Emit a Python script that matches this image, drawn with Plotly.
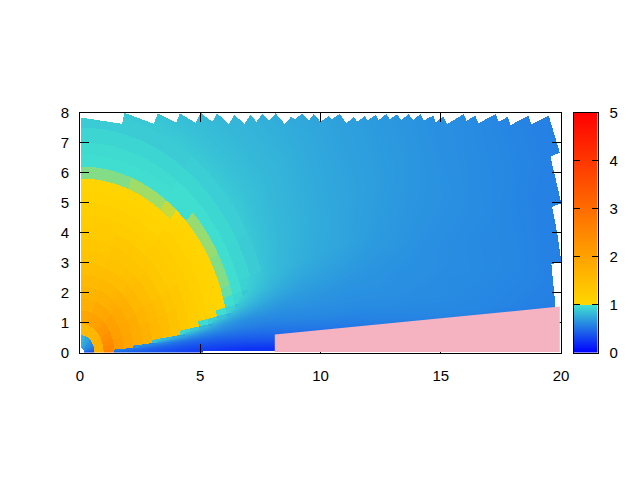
import numpy as np
import plotly.graph_objects as go

# polar grid of the run: ring edges (radius) and wedge edges (degrees)
r_edges = [0.15, 0.58, 0.96, 1.4, 1.8, 2.2, 2.6, 3.0, 3.4, 3.8, 4.2, 4.6, 5.0, 5.4, 5.8, 6.2, 6.6,
           7.0, 7.5, 8.0, 8.5, 9.0, 10, 11, 12, 13, 14, 15, 16, 17, 18, 19, 20, 22]
theta_edges = [0, 2, 4, 6, 8, 10, 12, 14, 17, 20, 30, 45, 50, 55, 70, 90]

# values read per wedge, one number per ring
z_00 = [.33, 1.7, 2.6, .45, .42, .40, .38, .36, .34, .32, .30, .28, .27, .25, .24, .23, .22, .22, .22, .22, .22, .22, .22, .22, .22, .22, .22, .22, .22, .22, .22, .22, .22]
z_02 = [.36, 1.7, 2.6, .55, .52, .50, .47, .44, .42, .40, .38, .37, .36, .35, .35, .35, .35, .36, .37, .38, .40, .42, .44, .46, .48, .50, .52, .52, .52, .52, .52, .52, .52]
z_04 = [.38, 1.7, 2.5, 2.1, 1.95, .62, .60, .58, .55, .52, .50, .48, .47, .46, .46, .46, .46, .47, .48, .50, .51, .53, .54, .55, .57, .58, .59, .59, .59, .58, .57, .56, .55]
z_06 = [.42, 1.7, 2.5, 2.1, 1.95, 1.8, 1.7, .85, .80, .75, .70, .66, .62, .60, .58, .57, .56, .56, .56, .57, .58, .59, .60, .60, .61, .61, .61, .61, .60, .59, .58, .57, .55]
z_08 = [.45, 1.7, 2.5, 2.1, 1.95, 1.8, 1.7, 1.6, 1.5, 1.4, .93, .88, .80, .74, .68, .65, .63, .62, .62, .62, .62, .63, .63, .63, .63, .63, .62, .61, .61, .60, .59, .57, .55]
z_10 = [.48, 1.7, 2.5, 2.1, 1.95, 1.8, 1.7, 1.6, 1.5, 1.4, 1.3, 1.2, .96, .90, .84, .78, .74, .71, .69, .67, .66, .66, .65, .64, .64, .63, .63, .62, .61, .60, .59, .57, .55]
z_12 = [.50, 1.7, 2.4, 2.1, 1.95, 1.8, 1.7, 1.6, 1.5, 1.4, 1.3, 1.2, 1.15, 1.1, .97, .92, .85, .80, .76, .73, .71, .69, .68, .66, .65, .64, .63, .62, .61, .60, .59, .57, .55]
z_14 = [.52, 1.7, 2.4, 2.1, 1.95, 1.8, 1.7, 1.6, 1.5, 1.4, 1.3, 1.2, 1.15, 1.1, 1.05, .97, .94, .88, .83, .79, .76, .73, .71, .69, .67, .66, .64, .63, .62, .61, .59, .57, .56]
z_17 = [.54, 1.7, 2.4, 2.05, 1.9, 1.8, 1.7, 1.6, 1.5, 1.4, 1.3, 1.2, 1.15, 1.1, 1.05, .984, .97, .92, .87, .83, .80, .77, .74, .72, .69, .67, .65, .64, .63, .61, .60, .58, .56]
z_20 = [.58, 1.7, 2.3, 2.05, 1.9, 1.8, 1.65, 1.55, 1.45, 1.35, 1.3, 1.2, 1.15, 1.1, 1.05, .987, .97, .93, .89, .85, .82, .79, .76, .73, .71, .69, .67, .65, .63, .62, .60, .58, .56]
z_30 = [.62, 1.65, 2.2, 2.0, 1.85, 1.75, 1.6, 1.5, 1.4, 1.3, 1.25, 1.2, 1.15, 1.1, 1.05, .989, .97, .94, .90, .87, .84, .81, .78, .75, .72, .70, .68, .66, .64, .62, .60, .58, .56]
z_45 = [.68, 1.6, 2.1, 1.9, 1.8, 1.7, 1.55, 1.45, 1.35, 1.3, 1.25, 1.2, 1.15, 1.1, 1.03, .97, .97, .94, .90, .87, .84, .81, .78, .75, .72, .70, .68, .66, .64, .62, .60, .58, .56]
z_50 = [.70, 1.6, 2.05, 1.9, 1.75, 1.65, 1.5, 1.42, 1.35, 1.3, 1.2, 1.15, 1.1, 1.05, .994, .97, .97, .94, .90, .87, .84, .81, .78, .75, .72, .70, .68, .66, .64, .62, .60, .58, .56]
z_55 = [.72, 1.6, 2.0, 1.85, 1.7, 1.6, 1.5, 1.4, 1.35, 1.3, 1.2, 1.15, 1.1, 1.05, .990, .97, .96, .93, .89, .87, .84, .81, .78, .75, .72, .70, .68, .66, .64, .62, .60, .58, .56]
z_70 = [.78, 1.55, 1.9, 1.75, 1.65, 1.55, 1.45, 1.38, 1.3, 1.25, 1.2, 1.15, 1.1, 1.05, .987, .97, .96, .93, .89, .87, .84, .81, .78, .75, .72, .70, .68, .66, .64, .62, .60, .58, .56]

# outline of the mesh
top_x = [0.04, 1.73, 1.83, 3.05, 3.21, 3.98, 4.13, 4.78, 5.0, 5.48, 5.68, 6.17, 6.40, 6.82, 7.07, 7.32, 7.55, 7.83, 8.11, 8.49,
         8.76, 8.91, 9.22, 9.49, 9.70, 9.98, 10.33, 10.44, 10.78, 11.06, 11.36, 11.50, 11.82, 11.92, 12.27, 12.40, 12.72, 12.86,
         13.17, 13.33, 13.65, 13.82, 14.14, 14.27, 14.55, 14.69, 14.76, 15.08, 15.25, 15.94, 16.05, 16.42, 16.54, 17.26, 17.39,
         17.77, 17.88, 18.62, 18.74, 19.47]
top_y = [7.83, 7.62, 7.99, 7.62, 7.97, 7.66, 7.97, 7.66, 7.99, 7.69, 7.97, 7.62, 7.92, 7.62, 7.92, 7.69, 7.95, 7.73, 7.97, 7.62,
         7.86, 7.77, 7.97, 7.73, 7.95, 7.69, 7.88, 7.77, 7.95, 7.64, 7.86, 7.69, 7.88, 7.73, 7.92, 7.75, 7.95, 7.78,
         7.94, 7.75, 7.95, 7.75, 7.95, 7.73, 7.86, 7.88, 7.67, 7.86, 7.62, 7.95, 7.73, 7.89, 7.64, 7.95, 7.69,
         7.86, 7.58, 7.89, 7.61, 7.89]
right_y = [1.53, 2.94, 3.03, 3.98, 4.86, 4.97, 6.53, 6.66, 7.89]
right_x = [19.75, 19.58, 19.99, 19.82, 19.61, 19.99, 19.54, 19.93, 19.47]
bottom_x = [0, 5.1, 5.11, 8.1]
bottom_y = [0, 0, 0.06, 0.06]

# solid body
body_x = [8.1, 8.1, 19.95, 19.95]
body_y = [0.02, 0.6, 1.53, 0.02]

x_ticks = [0, 5, 10, 15, 20]
y_ticks = [0, 1, 2, 3, 4, 5, 6, 7, 8]
cb_ticks = [0, 1, 2, 3, 4, 5]

wedges = np.array([z_00, z_02, z_04, z_06, z_08, z_10, z_12, z_14, z_17, z_20, z_30, z_45, z_50, z_55, z_70])

# palette: blue -> turquoise just under 1, gold -> red from 1 up
palette = [[0, "#0000ff"], [0.196, "#40e0d0"], [0.2, "#ffd700"], [1, "#ff0000"]]

gx = np.linspace(0, 20, 482)
gy = np.linspace(0, 8, 241)
xx, yy = np.meshgrid(gx, gy)
rr = np.hypot(xx, yy)
tt = np.degrees(np.arctan2(yy, xx))
ir = np.clip(np.searchsorted(r_edges, rr) - 1, 0, len(r_edges) - 2)
it = np.clip(np.searchsorted(theta_edges, tt) - 1, 0, len(theta_edges) - 2)
zz = wedges[it, ir]

# the cold side is shaded smoothly between cell centres, like pm3d interpolate
r_mid = (np.array(r_edges[:-1]) + np.array(r_edges[1:])) / 2
t_mid = (np.array(theta_edges[:-1]) + np.array(theta_edges[1:])) / 2
fr = np.interp(rr, r_mid, np.arange(len(r_mid)))
ft = np.interp(tt, t_mid, np.arange(len(t_mid)))
r0 = np.minimum(fr.astype(int), len(r_mid) - 2)
t0 = np.minimum(ft.astype(int), len(t_mid) - 2)
ar, at = fr - r0, ft - t0
c00, c01, c10, c11 = wedges[t0, r0], wedges[t0, r0 + 1], wedges[t0 + 1, r0], wedges[t0 + 1, r0 + 1]
smooth = (c00 * (1 - ar) + c01 * ar) * (1 - at) + (c10 * (1 - ar) + c11 * ar) * at
cold = np.maximum.reduce([c00, c01, c10, c11]) < 0.96
zz = np.where(cold & ((rr >= 8) | (tt < 20)), smooth, zz)

# blank out everything outside the mesh
outside = (rr < r_edges[0]) | (xx < top_x[0])
outside |= yy > np.interp(xx, top_x, top_y)
outside |= xx > np.interp(yy, right_y, right_x)
outside |= yy < np.interp(xx, bottom_x, bottom_y)
zz[outside] = np.nan

fig = go.Figure()
fig.add_trace(go.Heatmap(x=gx, y=gy, z=zz, zmin=0, zmax=5, colorscale=palette, showscale=False,
                         hoverongaps=False))

cb_y = np.linspace(0, 5, 241)
fig.add_trace(go.Heatmap(x=[0, 1], y=cb_y, z=[[v, v] for v in cb_y], zmin=0, zmax=5, colorscale=palette,
                         showscale=False, xaxis="x2", yaxis="y2"))

body_path = "M " + " L ".join(f"{a},{b}" for a, b in zip(body_x, body_y)) + " Z"
fig.add_shape(type="path", path=body_path, xref="x", yref="y", layer="above",
              fillcolor="#f5b3c1", line=dict(width=0))

axis_style = dict(showgrid=False, zeroline=False, showline=True, linecolor="black", linewidth=1, automargin=False,
                  ticks="inside", tickcolor="black", tickwidth=1)

# the page body has an 8px margin, so the figure starts at (8, 8) in the window
W, H = 624, 464
y_domain = [(472 - 352.5) / H, (472 - 112.5) / H]

fig.update_layout(
    width=W, height=H, margin=dict(l=0, r=0, t=0, b=0),
    paper_bgcolor="white", plot_bgcolor="white", showlegend=False,
    font=dict(family="Liberation Sans", size=15, color="black"),
    xaxis=dict(domain=[72 / W, 553 / W], range=[0, 20], tickvals=x_ticks, ticklen=9, mirror="ticks",
               ticklabelstandoff=9, **axis_style),
    yaxis=dict(domain=y_domain, range=[0, 8], tickvals=y_ticks, ticklen=9, mirror="ticks",
               ticklabelstandoff=7, **axis_style),
    xaxis2=dict(domain=[565.5 / W, 589.5 / W], range=[0, 1], anchor="y2", showticklabels=False, automargin=False,
                showgrid=False, zeroline=False, showline=True, linecolor="black", linewidth=1, mirror=True, ticks=""),
    yaxis2=dict(domain=y_domain, range=[0, 5], anchor="x2", side="right", tickvals=cb_ticks,
                ticklen=6, mirror="ticks", ticklabelstandoff=8, **axis_style),
)

fig.write_html("out.html")
